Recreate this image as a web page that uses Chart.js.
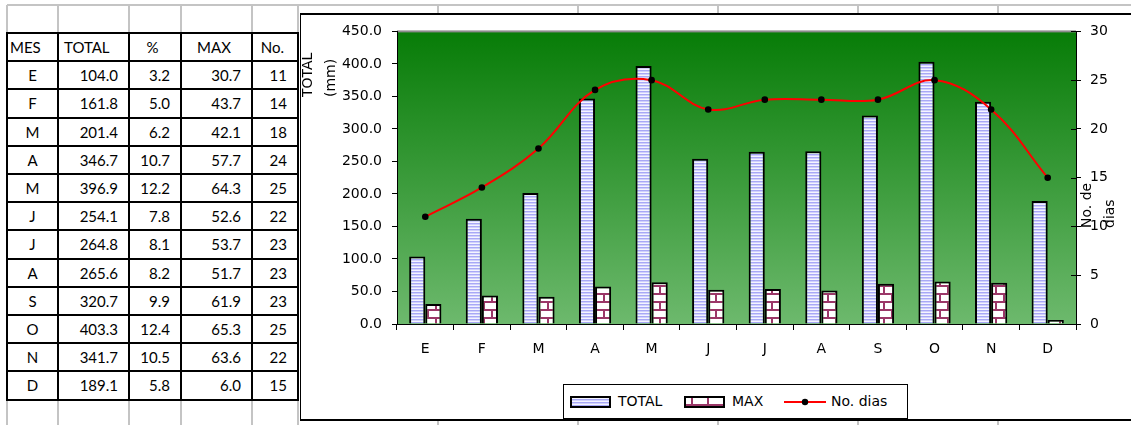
<!DOCTYPE html>
<html><head><meta charset="utf-8">
<script src="https://cdn.jsdelivr.net/npm/chart.js@4/dist/chart.umd.min.js"></script>
<style>
html,body{margin:0;padding:0;background:#fff;}
body{width:1131px;height:425px;overflow:hidden;position:relative;font-family:Lato,"Open Sans",sans-serif;}
.g{position:absolute;background:#c4c4c4;}
.b{position:absolute;background:#000;}
.c{position:absolute;font-size:15px;color:#000;white-space:nowrap;display:flex;align-items:center;box-sizing:border-box;}
#cv{position:absolute;left:300px;top:13px;}
#legend{position:absolute;left:563px;top:384px;width:345px;height:35px;border:1px solid #000;background:#fff;box-sizing:border-box;font-size:14px;font-family:"DejaVu Sans",sans-serif;}
#legend .t{position:absolute;top:0;height:33px;line-height:33px;}
#legend canvas{position:absolute;}
</style></head><body>
<canvas id="cv" width="831" height="407"></canvas>
<div id="legend">
  <canvas id="sw1" width="41" height="12" style="left:6px;top:11px"></canvas><span class="t" style="left:54px">TOTAL</span>
  <canvas id="sw2" width="41" height="12" style="left:120px;top:11px"></canvas><span class="t" style="left:168px">MAX</span>
  <canvas id="sw3" width="42" height="12" style="left:220px;top:11px"></canvas><span class="t" style="left:267px">No. dias</span>
</div>
<script>
// ---- data ----
const months = ["E","F","M","A","M","J","J","A","S","O","N","D"];
const totalMM = [104.0,161.8,201.4,346.7,396.9,254.1,264.8,265.6,320.7,403.3,341.7,189.1];
const pctVals = [3.2,5.0,6.2,10.7,12.2,7.8,8.1,8.2,9.9,12.4,10.5,5.8];
const maxMM = [30.7,43.7,42.1,57.7,64.3,52.6,53.7,51.7,61.9,65.3,63.6,6.0];
const noDias = [11,14,18,24,25,22,23,23,23,25,22,15];
const tableHeaders = ["MES","TOTAL","%","MAX","No."];

// ---- spreadsheet grid + table ----
const body = document.body;
function div(cls, l, t, w, h, txt, extra){
  const d=document.createElement('div'); d.className=cls;
  d.style.left=l+'px'; d.style.top=t+'px'; d.style.width=w+'px'; d.style.height=h+'px';
  if(txt!==undefined){ d.textContent=txt; }
  if(extra) Object.assign(d.style, extra);
  body.appendChild(d); return d;
}
const colX=[7,58,129,181,252,298];
const tTop=33, rowH=28.2, nRows=13, tBot=tTop+rowH*nRows;
div('g',7,4,1124,2);
colX.forEach(x=>{ div('g',x-1,5,2,tTop-5); div('g',x-1,tBot,2,425-tBot); });
[438,578,718,858,998].forEach(x=>{ div('g',x-1,5,2,8); div('g',x-1,420,2,6); });
for(let r=0;r<nRows;r++){
  const y=tTop+r*rowH;
  let vals;
  if(r===0) vals=tableHeaders;
  else { const i=r-1; vals=[months[i],totalMM[i].toFixed(1),pctVals[i].toFixed(1),maxMM[i].toFixed(1),String(noDias[i])]; }
  for(let c=0;c<5;c++){
    const x0=colX[c], w=colX[c+1]-colX[c];
    let st={};
    if(r===0){
      if(c===0) st={justifyContent:'flex-start',paddingLeft:'3px'};
      else if(c===1) st={justifyContent:'flex-start',paddingLeft:'6px'};
      else st={justifyContent:'center',paddingRight:'5px'};
    } else {
      if(c===0) st={justifyContent:'center'};
      else st={justifyContent:'flex-end',paddingRight:'11px'};
    }
    div('c',x0,y,w,rowH,vals[c],st);
  }
}
for(let r=0;r<=nRows;r++){ div('b',6,tTop+r*rowH-1,293,2); }
colX.forEach(x=>div('b',x-1,tTop-1,2,rowH*nRows+2));
div('b',300,13,831,1.5);
div('b',299.5,13,1.5,407);
div('b',300,419,831,1.5);

// ---- patterns ----
function stripeCanvas(){
  const c=document.createElement('canvas'); c.width=4; c.height=3;
  const x=c.getContext('2d');
  x.fillStyle='#f4f4ff'; x.fillRect(0,0,4,3);
  x.fillStyle='#a8a8f6'; x.fillRect(0,0,4,1);
  x.fillStyle='#d0d0fc'; x.fillRect(0,1,4,1);
  return c;
}
function brickCanvas(){
  const c=document.createElement('canvas'); c.width=16; c.height=16;
  const x=c.getContext('2d');
  x.fillStyle='#ffffff'; x.fillRect(0,0,16,16);
  x.fillStyle='#9b3768';
  x.fillRect(0,0,16,2); x.fillRect(0,8,16,2);
  x.fillRect(7,2,2,6); x.fillRect(0,10,1,6); x.fillRect(15,10,1,6);
  return c;
}
const cvs=document.getElementById('cv');
const ctx=cvs.getContext('2d');
const stripePat=ctx.createPattern(stripeCanvas(),'repeat');
const brickPat=ctx.createPattern(brickCanvas(),'repeat');

(function(){
  const s1=document.getElementById('sw1').getContext('2d');
  s1.fillStyle=s1.createPattern(stripeCanvas(),'repeat'); s1.fillRect(0,0,41,12);
  s1.lineWidth=2; s1.strokeStyle='#000'; s1.strokeRect(1,1,39,10);
  const s2=document.getElementById('sw2').getContext('2d');
  s2.fillStyle=s2.createPattern(brickCanvas(),'repeat'); s2.fillRect(0,0,41,12);
  s2.lineWidth=2; s2.strokeStyle='#000'; s2.strokeRect(1,1,39,10);
  const s3=document.getElementById('sw3').getContext('2d');
  s3.strokeStyle='#ff0000'; s3.lineWidth=2; s3.beginPath(); s3.moveTo(0,6); s3.lineTo(42,6); s3.stroke();
  s3.fillStyle='#000'; s3.beginPath(); s3.arc(21,6,3.2,0,Math.PI*2); s3.fill();
})();

const FONT={family:'DejaVu Sans',size:14};
const bgPlugin={
  id:'bg',
  beforeDraw(chart){
    const a=chart.chartArea, c=chart.ctx;
    const g=c.createLinearGradient(0,a.top,0,a.bottom);
    g.addColorStop(0,'#077c07');
    g.addColorStop(1,'#6db96d');
    c.save(); c.fillStyle=g; c.fillRect(a.left,a.top,a.right-a.left,a.bottom-a.top);
    c.fillStyle='#8c8c8c'; c.fillRect(a.left,a.top-1,a.right-a.left,2);
    c.restore();
  },
  afterDraw(chart){
    const c=chart.ctx, s=chart.scales.y1;
    c.save(); c.strokeStyle='#000'; c.lineWidth=1;
    s.ticks.forEach((t,i)=>{ const y=Math.round(s.getPixelForTick(i))+0.5; c.beginPath(); c.moveTo(s.left-5,y); c.lineTo(s.left,y); c.stroke(); });
    c.fillStyle='#000'; c.font='14px "DejaVu Sans"'; c.textAlign='left'; c.textBaseline='middle';
    function vtext(txt,x,y){ c.save(); c.translate(x,y); c.rotate(-Math.PI/2); c.fillText(txt,0,0); c.restore(); }
    vtext('TOTAL',8,84); vtext('(mm)',31,84);
    vtext('No. de',787,215); vtext('dias',810,215);
    c.restore();
  }
};

Chart.defaults.font.family='DejaVu Sans';
Chart.defaults.font.size=14;
Chart.defaults.color='#000';

new Chart(cvs,{
  type:'bar',
  data:{
    labels:months,
    datasets:[
      {type:'line',label:'No. dias',data:noDias,yAxisID:'y1',order:0,borderColor:'#ff0000',borderWidth:2,
        tension:0.38,pointRadius:3.3,pointBackgroundColor:'#000',pointBorderColor:'#000',pointBorderWidth:0,fill:false},
      {label:'TOTAL',data:totalMM,yAxisID:'y',order:1,backgroundColor:stripePat,borderColor:'#000',borderWidth:2,
        categoryPercentage:0.57,barPercentage:1.0},
      {label:'MAX',data:maxMM,yAxisID:'y',order:2,backgroundColor:brickPat,borderColor:'#000',borderWidth:2,
        categoryPercentage:0.57,barPercentage:1.0}
    ]
  },
  options:{
    responsive:false,animation:false,devicePixelRatio:1,
    layout:{padding:{top:17,left:0,right:0,bottom:0}},
    plugins:{legend:{display:false},tooltip:{enabled:false}},
    scales:{
      x:{position:'bottom',
        grid:{drawOnChartArea:false,drawTicks:true,tickLength:6,color:'#000',offset:true},
        border:{display:true,color:'#000',width:1},
        ticks:{padding:11,font:FONT,color:'#000',maxRotation:0},
        afterFit(s){ s.height=96; }},
      y:{position:'left',min:0,max:450,
        grid:{drawOnChartArea:false,drawTicks:true,tickLength:5,color:'#000'},
        border:{display:true,color:'#000',width:1},
        ticks:{stepSize:50,padding:10,font:FONT,color:'#000',callback:v=>Number(v).toFixed(1)},
        afterFit(s){ s.width=97; }},
      y1:{position:'right',min:0,max:30,
        grid:{drawOnChartArea:false,drawTicks:true,tickLength:5,color:'#000'},
        border:{display:true,color:'#000',width:1},
        ticks:{stepSize:5,padding:9,font:FONT,color:'#000'},
        afterFit(s){ s.width=55; }}
    }
  },
  plugins:[bgPlugin]
});
</script>
</body></html>
